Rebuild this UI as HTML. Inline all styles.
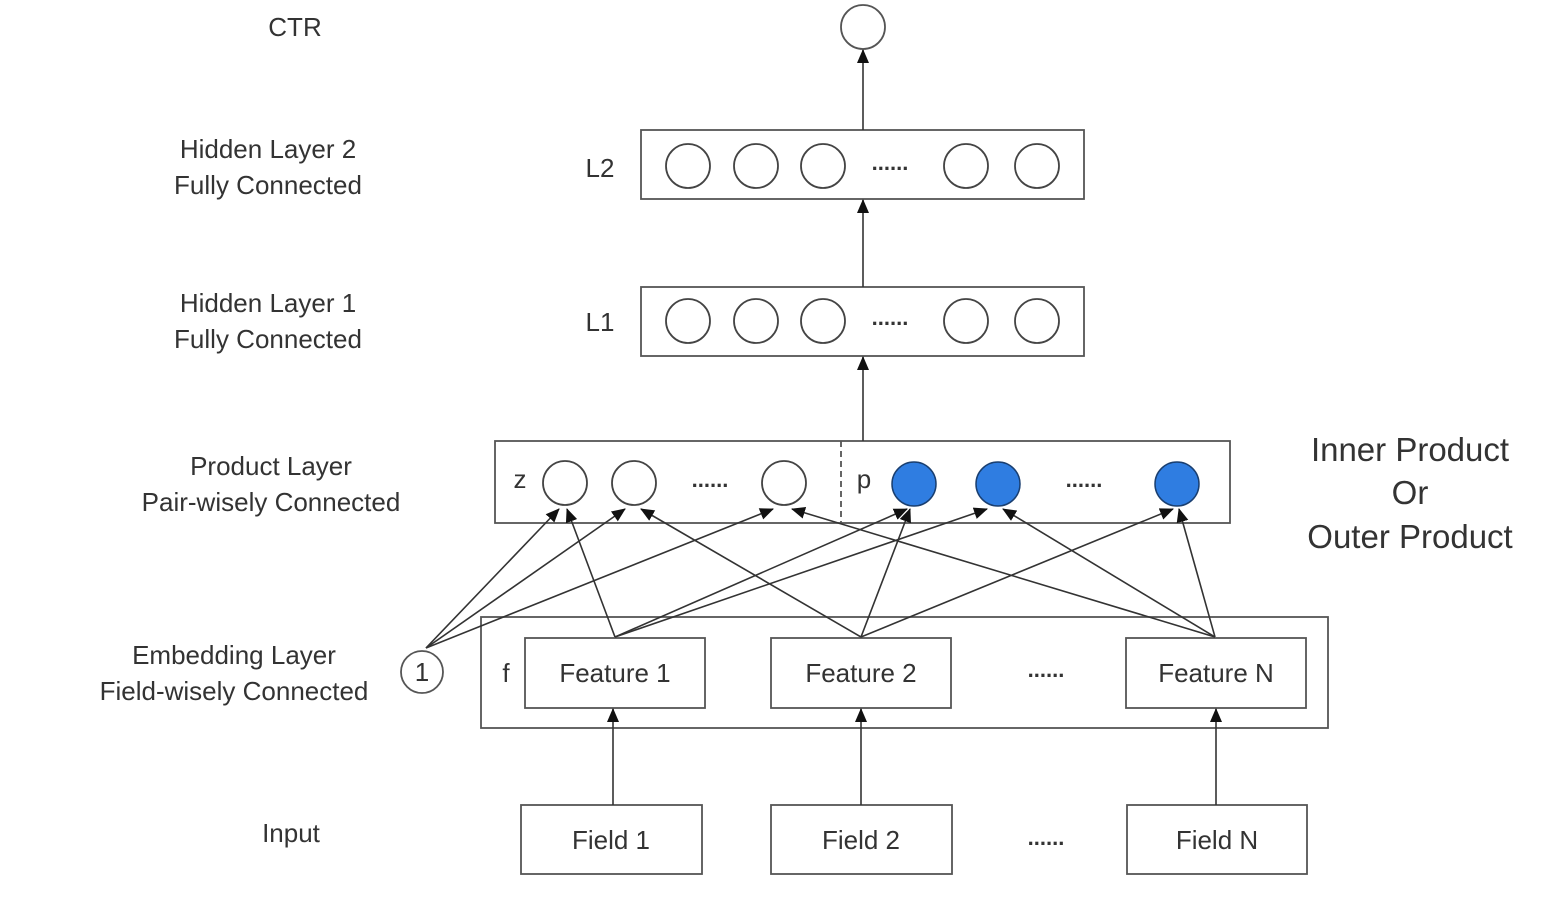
<!DOCTYPE html>
<html><head><meta charset="utf-8"><style>
html,body{margin:0;padding:0;background:#fff;}
svg{display:block}
text{font-family:"Liberation Sans",sans-serif;fill:#333;}
</style></head><body>
<svg width="1562" height="922" viewBox="0 0 1562 922" xmlns="http://www.w3.org/2000/svg">
<defs>
<marker id="a" markerWidth="14" markerHeight="14" refX="13" refY="6" orient="auto" markerUnits="userSpaceOnUse">
<path d="M0,0 L14,6 L0,12 z" fill="#111"/>
</marker>
</defs>
<rect width="1562" height="922" fill="#fff"/>
<g font-size="26" text-anchor="middle">
<text x="295" y="36">CTR</text>
<text x="268" y="158">Hidden Layer 2</text>
<text x="268" y="194">Fully Connected</text>
<text x="268" y="312">Hidden Layer 1</text>
<text x="268" y="348">Fully Connected</text>
<text x="271" y="475">Product Layer</text>
<text x="271" y="511">Pair-wisely Connected</text>
<text x="234" y="664">Embedding Layer</text>
<text x="234" y="700">Field-wisely Connected</text>
<text x="291" y="842">Input</text>
<text x="600" y="177">L2</text>
<text x="600" y="331">L1</text>
</g>
<g font-size="33" text-anchor="middle">
<text x="1410" y="461">Inner Product</text>
<text x="1410" y="504">Or</text>
<text x="1410" y="548">Outer Product</text>
</g>
<g fill="none" stroke="#555" stroke-width="1.8">
<circle cx="863" cy="27" r="22" fill="#fff"/>
<rect x="641" y="130" width="443" height="69"/>
<rect x="641" y="287" width="443" height="69"/>
<rect x="495" y="441" width="735" height="82"/>
<line x1="841" y1="441" x2="841" y2="523" stroke-dasharray="6,4"/>
<rect x="481" y="617" width="847" height="111"/>
<rect x="525" y="638" width="180" height="70"/>
<rect x="771" y="638" width="180" height="70"/>
<rect x="1126" y="638" width="180" height="70"/>
<rect x="521" y="805" width="181" height="69"/>
<rect x="771" y="805" width="181" height="69"/>
<rect x="1127" y="805" width="180" height="69"/>
<circle cx="422" cy="672" r="21"/>
</g>
<g fill="#fff" stroke="#444" stroke-width="1.8">
<circle cx="688" cy="166" r="22"/><circle cx="756" cy="166" r="22"/><circle cx="823" cy="166" r="22"/><circle cx="966" cy="166" r="22"/><circle cx="1037" cy="166" r="22"/>
<circle cx="688" cy="321" r="22"/><circle cx="756" cy="321" r="22"/><circle cx="823" cy="321" r="22"/><circle cx="966" cy="321" r="22"/><circle cx="1037" cy="321" r="22"/>
<circle cx="565" cy="483" r="22"/><circle cx="634" cy="483" r="22"/><circle cx="784" cy="483" r="22"/>
</g>
<g fill="#2f7de1" stroke="#1a3f70" stroke-width="1.5">
<circle cx="914" cy="484" r="22"/><circle cx="998" cy="484" r="22"/><circle cx="1177" cy="484" r="22"/>
</g>
<g font-size="22" text-anchor="middle" font-weight="bold">
<text x="890" y="170">......</text>
<text x="890" y="325">......</text>
<text x="710" y="487">......</text>
<text x="1084" y="487">......</text>
<text x="1046" y="677">......</text>
<text x="1046" y="845">......</text>
</g>
<g font-size="26" text-anchor="middle">
<text x="520" y="488">z</text>
<text x="864" y="488">p</text>
<text x="506" y="682">f</text>
<text x="422" y="681">1</text>
<text x="615" y="682">Feature 1</text>
<text x="861" y="682">Feature 2</text>
<text x="1216" y="682">Feature N</text>
<text x="611" y="849">Field 1</text>
<text x="861" y="849">Field 2</text>
<text x="1217" y="849">Field N</text>
</g>
<g stroke="#333" stroke-width="1.6" marker-end="url(#a)">
<line x1="863" y1="130" x2="863" y2="50"/>
<line x1="863" y1="287" x2="863" y2="200"/>
<line x1="863" y1="441" x2="863" y2="357"/>
<line x1="613" y1="805" x2="613" y2="709"/>
<line x1="861" y1="805" x2="861" y2="709"/>
<line x1="1216" y1="805" x2="1216" y2="709"/>
<line x1="426" y1="648" x2="559" y2="509"/>
<line x1="426" y1="648" x2="625" y2="509"/>
<line x1="426" y1="648" x2="773" y2="509"/>
<line x1="615" y1="637" x2="567" y2="509"/>
<line x1="615" y1="637" x2="907" y2="509"/>
<line x1="615" y1="637" x2="987" y2="509"/>
<line x1="861" y1="637" x2="641" y2="509"/>
<line x1="861" y1="637" x2="910" y2="509"/>
<line x1="861" y1="637" x2="1173" y2="509"/>
<line x1="1215" y1="637" x2="792" y2="509"/>
<line x1="1215" y1="637" x2="1003" y2="509"/>
<line x1="1215" y1="637" x2="1179" y2="509"/>
</g>
</svg>
</body></html>
